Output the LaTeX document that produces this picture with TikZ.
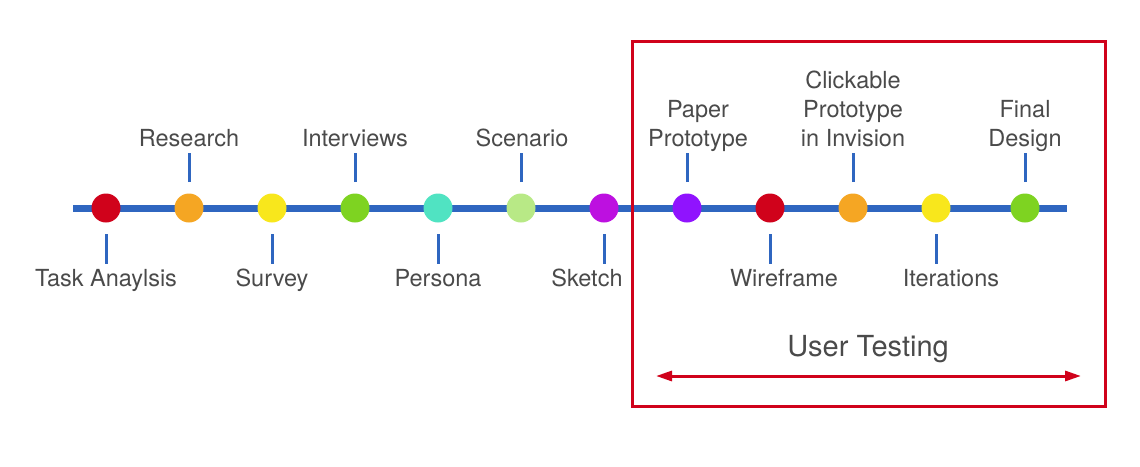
\documentclass[tikz,border=0pt]{standalone}
\usepackage{fontspec}
\setmainfont{TeX Gyre Heros}
\usetikzlibrary{arrows.meta,calc}
\definecolor{cRed}{HTML}{D0021B}
\definecolor{cOrange}{HTML}{F5A623}
\definecolor{cYellow}{HTML}{F8E71C}
\definecolor{cGreen}{HTML}{7ED321}
\definecolor{cTeal}{HTML}{50E3C2}
\definecolor{cLight}{HTML}{B8E986}
\definecolor{cMagenta}{HTML}{BD10E0}
\definecolor{cPurple}{HTML}{9013FE}
\definecolor{cBlue}{HTML}{2F66C0}
\definecolor{cText}{HTML}{4A4A4A}
\tikzset{
  dot/.style={circle, minimum size=29pt, inner sep=0pt, fill=#1},
  timeline/.style={draw=cBlue, line width=7pt},
  tickline/.style={draw=cBlue, line width=3pt},
  lab/.style={text=cText, font=\fontsize{23.5}{29}\selectfont, inner sep=0pt, align=center},
  uplab/.style={lab, anchor=south, text depth=0pt},
  lowlab/.style={lab, anchor=base},
  redbox/.style={draw=cRed, line width=3pt},
  redarrow/.style={draw=cRed, line width=3pt, {Triangle[length=16pt,width=10pt]}-{Triangle[length=16pt,width=10pt]}}
}
\begin{document}
\begin{tikzpicture}[x=1pt,y=-1pt]
\useasboundingbox (0,0) rectangle (1140,466);
% timeline
\coordinate (ls) at (73,208);
\coordinate (le) at (1067,208);
\draw[timeline] (ls) -- (le);
% dots
\node[dot=cRed]     (d1)  at (106,208) {};
\node[dot=cOrange]  (d2)  at (189,208) {};
\node[dot=cYellow]  (d3)  at (272,208) {};
\node[dot=cGreen]   (d4)  at (355,208) {};
\node[dot=cTeal]    (d5)  at (438,208) {};
\node[dot=cLight]   (d6)  at (521,208) {};
\node[dot=cMagenta] (d7)  at (604,208) {};
\node[dot=cPurple]  (d8)  at (687,208) {};
\node[dot=cRed]     (d9)  at (770,208) {};
\node[dot=cOrange]  (d10) at (853,208) {};
\node[dot=cYellow]  (d11) at (936,208) {};
\node[dot=cGreen]   (d12) at (1025,208) {};
% upper ticks
\foreach \d in {d2,d4,d6,d8,d10,d12}{
  \draw[tickline] ($(\d)+(0,-26)$) -- ($(\d)+(0,-55)$);
}
% lower ticks
\foreach \d in {d1,d3,d5,d7,d9,d11}{
  \draw[tickline] ($(\d)+(0,26)$) -- ($(\d)+(0,56)$);
}
% upper labels
\node[uplab] (l2)  at (189,147)  {Research};
\node[uplab] (l4)  at (355,147)  {Interviews};
\node[uplab] (l6)  at (522,147)  {Scenario};
\node[uplab] (l8)  at (698,147)  {Paper\\Prototype};
\node[uplab] (l10) at (853,147)  {Clickable\\Prototype\\in Invision};
\node[uplab] (l12) at (1025,147) {Final\\Design};
% lower labels
\node[lowlab] (l1)  at (106,286) {Task Anaylsis};
\node[lowlab] (l3)  at (272,286) {Survey};
\node[lowlab] (l5)  at (438,286) {Persona};
\node[lowlab] (l7)  at (587,286) {Sketch};
\node[lowlab] (l9)  at (784,286) {Wireframe};
\node[lowlab] (l11) at (951,286) {Iterations};
% user testing
\draw[redbox] (632,41) rectangle (1105,406);
\node[lab, anchor=base, font=\fontsize{29}{34}\selectfont] (ut) at (868,356) {User Testing};
\coordinate (as) at (656,376);
\coordinate (ae) at (1081,376);
\draw[redarrow] (as) -- (ae);
\end{tikzpicture}
\end{document}
